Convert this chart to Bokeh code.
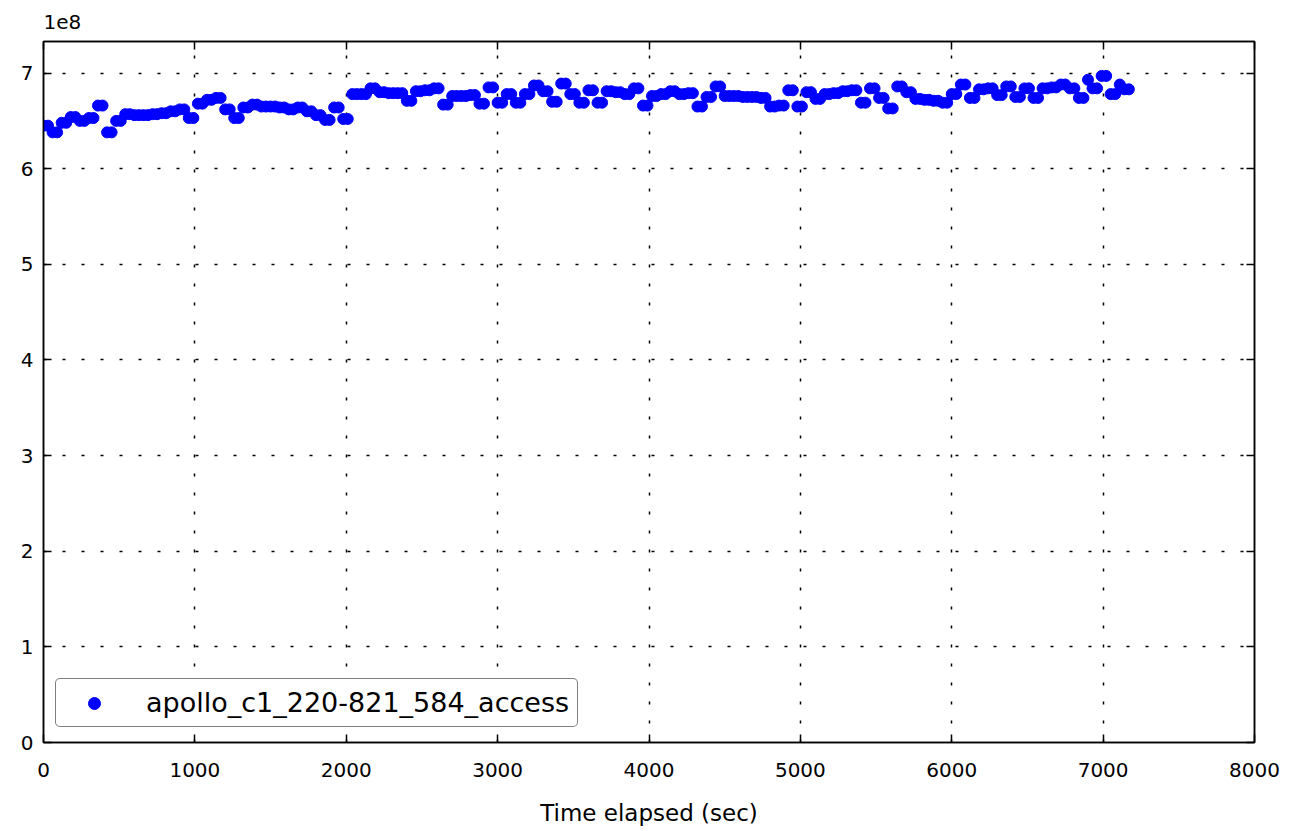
from bokeh.plotting import figure
from bokeh.models import Range1d, LinearAxis, FixedTicker
from bokeh.embed import file_html
from bokeh.resources import INLINE

# sample times (sec), one sample every 30 s
time_sec = [0, 30, 60, 90, 120, 150, 180, 210, 240, 270, 300, 330, 360, 390, 420, 450, 480, 510, 540, 570,
            600, 630, 660, 690, 720, 750, 780, 810, 840, 870, 900, 930, 960, 990, 1020, 1050, 1080, 1110, 1140, 1170,
            1200, 1230, 1260, 1290, 1320, 1350, 1380, 1410, 1440, 1470, 1500, 1530, 1560, 1590, 1620, 1650, 1680, 1710, 1740, 1770,
            1800, 1830, 1860, 1890, 1920, 1950, 1980, 2010, 2040, 2070, 2100, 2130, 2160, 2190, 2220, 2250, 2280, 2310, 2340, 2370,
            2400, 2430, 2460, 2490, 2520, 2550, 2580, 2610, 2640, 2670, 2700, 2730, 2760, 2790, 2820, 2850, 2880, 2910, 2940, 2970,
            3000, 3030, 3060, 3090, 3120, 3150, 3180, 3210, 3240, 3270, 3300, 3330, 3360, 3390, 3420, 3450, 3480, 3510, 3540, 3570,
            3600, 3630, 3660, 3690, 3720, 3750, 3780, 3810, 3840, 3870, 3900, 3930, 3960, 3990, 4020, 4050, 4080, 4110, 4140, 4170,
            4200, 4230, 4260, 4290, 4320, 4350, 4380, 4410, 4440, 4470, 4500, 4530, 4560, 4590, 4620, 4650, 4680, 4710, 4740, 4770,
            4800, 4830, 4860, 4890, 4920, 4950, 4980, 5010, 5040, 5070, 5100, 5130, 5160, 5190, 5220, 5250, 5280, 5310, 5340, 5370,
            5400, 5430, 5460, 5490, 5520, 5550, 5580, 5610, 5640, 5670, 5700, 5730, 5760, 5790, 5820, 5850, 5880, 5910, 5940, 5970,
            6000, 6030, 6060, 6090, 6120, 6150, 6180, 6210, 6240, 6270, 6300, 6330, 6360, 6390, 6420, 6450, 6480, 6510, 6540, 6570,
            6600, 6630, 6660, 6690, 6720, 6750, 6780, 6810, 6840, 6870, 6900, 6930, 6960, 6990, 7020, 7050, 7080, 7110, 7140, 7170]

# values in units of 1e8 (each reading appears on two consecutive samples)
access_1e8 = [6.45, 6.45, 6.38, 6.38, 6.48, 6.48, 6.54, 6.54, 6.50, 6.50, 6.53, 6.53, 6.66, 6.66, 6.38, 6.38, 6.50, 6.50, 6.57, 6.57,
              6.56, 6.56, 6.56, 6.56, 6.57, 6.57, 6.58, 6.58, 6.60, 6.60, 6.62, 6.62, 6.53, 6.53, 6.68, 6.68, 6.72, 6.72, 6.74, 6.74,
              6.62, 6.62, 6.53, 6.53, 6.64, 6.64, 6.67, 6.67, 6.65, 6.65, 6.65, 6.65, 6.64, 6.64, 6.62, 6.62, 6.64, 6.64, 6.60, 6.60,
              6.56, 6.56, 6.51, 6.51, 6.64, 6.64, 6.52, 6.52, 6.78, 6.78, 6.78, 6.78, 6.84, 6.84, 6.80, 6.80, 6.79, 6.79, 6.79, 6.79,
              6.71, 6.71, 6.81, 6.81, 6.82, 6.82, 6.84, 6.84, 6.67, 6.67, 6.76, 6.76, 6.76, 6.76, 6.77, 6.77, 6.68, 6.68, 6.85, 6.85,
              6.69, 6.69, 6.78, 6.78, 6.69, 6.69, 6.78, 6.78, 6.87, 6.87, 6.81, 6.81, 6.70, 6.70, 6.89, 6.89, 6.78, 6.78, 6.69, 6.69,
              6.82, 6.82, 6.69, 6.69, 6.81, 6.81, 6.80, 6.80, 6.78, 6.78, 6.84, 6.84, 6.66, 6.66, 6.76, 6.76, 6.78, 6.78, 6.81, 6.81,
              6.78, 6.78, 6.79, 6.79, 6.65, 6.65, 6.75, 6.75, 6.86, 6.86, 6.76, 6.76, 6.76, 6.76, 6.75, 6.75, 6.75, 6.75, 6.74, 6.74,
              6.65, 6.65, 6.66, 6.66, 6.82, 6.82, 6.65, 6.65, 6.80, 6.80, 6.73, 6.73, 6.78, 6.78, 6.79, 6.79, 6.81, 6.81, 6.82, 6.82,
              6.69, 6.69, 6.84, 6.84, 6.74, 6.74, 6.63, 6.63, 6.86, 6.86, 6.80, 6.80, 6.73, 6.73, 6.72, 6.72, 6.71, 6.71, 6.69, 6.69,
              6.78, 6.78, 6.88, 6.88, 6.74, 6.74, 6.83, 6.83, 6.84, 6.84, 6.77, 6.77, 6.86, 6.86, 6.75, 6.75, 6.84, 6.84, 6.74, 6.74,
              6.84, 6.84, 6.85, 6.85, 6.88, 6.88, 6.84, 6.84, 6.74, 6.74, 6.93, 6.84, 6.84, 6.97, 6.97, 6.78, 6.78, 6.88, 6.83, 6.83]

series_name = "apollo_c1_220-821_584_access"
x_ticks = [0, 1000, 2000, 3000, 4000, 5000, 6000, 7000, 8000]
y_ticks = [0, 1, 2, 3, 4, 5, 6, 7]

FONT = "DejaVu Sans"

p = figure(width=1296, height=828, output_backend="svg", toolbar_location=None,
           x_range=Range1d(0, 8000), y_range=Range1d(0, 7.33),
           min_border_left=43, min_border_right=42, min_border_top=40, min_border_bottom=85)
p.background_fill_color = "white"
p.border_fill_color = "white"
p.outline_line_color = "black"
p.outline_line_width = 1.5

p.title.text = "1e8"
p.title.align = "left"
p.title.text_font = FONT
p.title.text_font_size = "20px"
p.title.text_font_style = "normal"
p.title.text_color = "black"
p.title.text_line_height = 0.5
p.title.standoff = 25
p.title.offset = 0

p.scatter(time_sec, access_1e8, size=11, color="#0000ff", line_color="#0000ff",
          legend_label=series_name)

for ax in [p.xaxis[0], p.yaxis[0]]:
    ax.axis_line_color = "black"
    ax.axis_line_width = 1.5
    ax.major_tick_in = 8
    ax.major_tick_out = 0
    ax.major_tick_line_color = "black"
    ax.major_tick_line_width = 1.5
    ax.minor_tick_line_color = None
    ax.major_label_text_font = FONT
    ax.major_label_text_font_size = "20px"
    ax.major_label_text_color = "black"

p.xaxis[0].ticker = FixedTicker(ticks=x_ticks)
p.yaxis[0].ticker = FixedTicker(ticks=y_ticks)
p.xaxis[0].major_label_standoff = 20
p.yaxis[0].major_label_standoff = 10
p.xaxis[0].axis_label = "Time elapsed (sec)"
p.xaxis[0].axis_label_text_font = FONT
p.xaxis[0].axis_label_text_font_size = "23px"
p.xaxis[0].axis_label_text_font_style = "normal"
p.xaxis[0].axis_label_text_color = "black"
p.xaxis[0].axis_label_standoff = 20

top_ax = LinearAxis(ticker=FixedTicker(ticks=x_ticks))
right_ax = LinearAxis(ticker=FixedTicker(ticks=y_ticks))
for ax in [top_ax, right_ax]:
    ax.axis_line_color = "black"
    ax.axis_line_width = 1.5
    ax.major_tick_in = 8
    ax.major_tick_out = 0
    ax.major_tick_line_color = "black"
    ax.major_tick_line_width = 1.5
    ax.minor_tick_line_color = None
    ax.major_label_text_font_size = "1px"
    ax.major_label_text_color = None
    ax.major_label_standoff = 0
p.add_layout(top_ax, "above")
p.add_layout(right_ax, "right")

for g in [p.xgrid[0], p.ygrid[0]]:
    g.grid_line_color = "black"
    g.grid_line_dash = "3 16"
    g.grid_line_width = 1.5
p.xgrid[0].ticker = FixedTicker(ticks=x_ticks)
p.ygrid[0].ticker = FixedTicker(ticks=y_ticks)

lg = p.legend[0]
lg.location = (12, 15)
lg.margin = 0
lg.border_line_color = "black"
lg.border_line_width = 1.5
lg.background_fill_color = "white"
lg.background_fill_alpha = 1.0
lg.label_text_font = FONT
lg.label_text_font_size = "27px"
lg.label_text_color = "black"
lg.padding = 8
lg.glyph_width = 60
lg.glyph_height = 30
lg.label_standoff = 22
lg.label_height = 30
try:
    lg.border_radius = 5
except Exception:
    pass

open("out.html", "w").write(file_html(p, INLINE))
